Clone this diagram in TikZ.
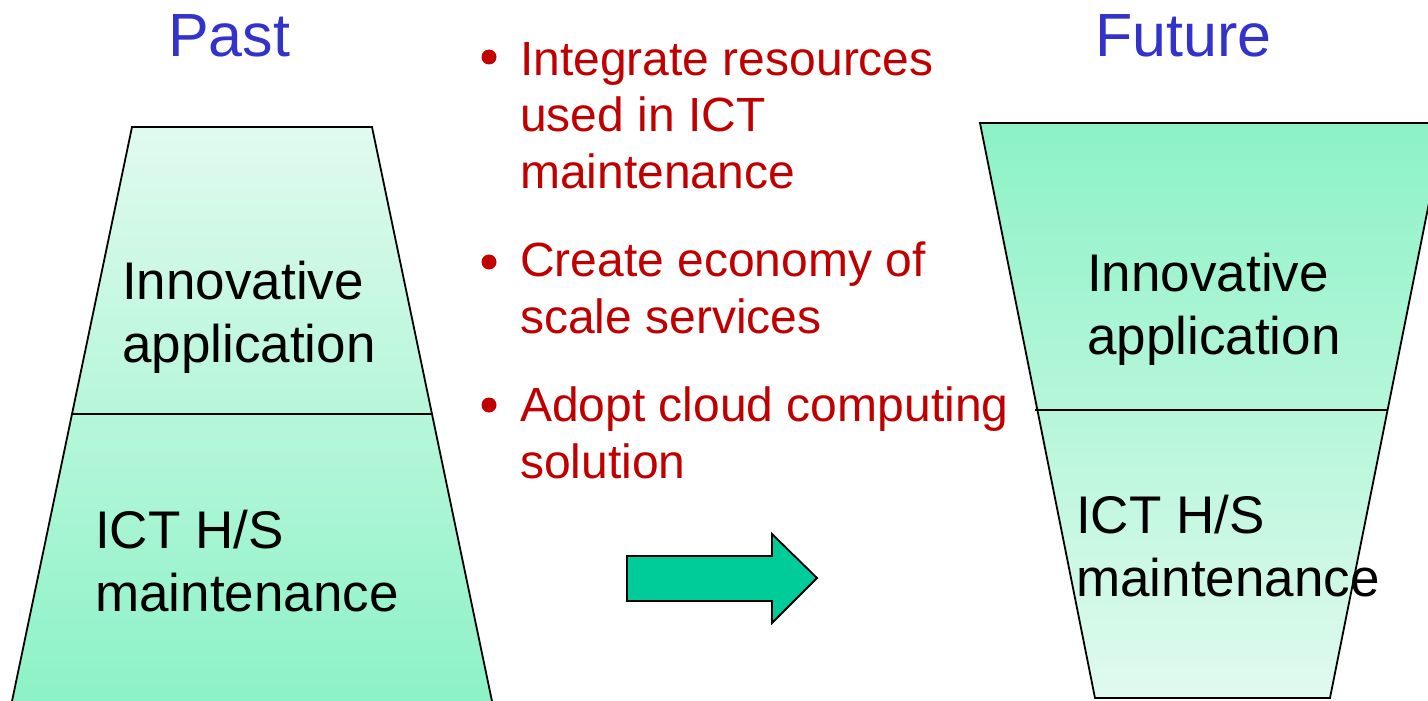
\documentclass[tikz,border=0pt]{standalone}
\usepackage{fontspec}
\setmainfont{Liberation Sans}
\definecolor{mintlight}{RGB}{224,250,239}
\definecolor{mintdark}{RGB}{140,242,198}
\definecolor{titleblue}{RGB}{51,51,204}
\definecolor{bulletred}{RGB}{192,0,0}
\definecolor{arrowgreen}{RGB}{0,204,153}
\tikzset{
  outline/.style={draw=black, line width=1.8pt, line join=miter},
  title/.style={anchor=base west, inner sep=0pt, text=titleblue, font=\fontsize{61}{73}\selectfont},
  redtext/.style={anchor=base west, inner sep=0pt, align=left, text=bulletred, font=\fontsize{48}{56.5}\selectfont},
  blacktext/.style={anchor=base west, inner sep=0pt, align=left, text=black, font=\fontsize{53}{62.5}\selectfont},
  bulletdot/.style={circle, fill=bulletred, inner sep=0pt, minimum size=15pt},
}
\begin{document}
\begin{tikzpicture}[x=1pt,y=-1pt]
\useasboundingbox (0,0) rectangle (1428,701);
\fill[white] (0,0) rectangle (1428,701);
\begin{scope}
\clip (0,0) rectangle (1428,701);
% Past trapezoid
\shade[outline, top color=mintlight, bottom color=mintdark]
  (132,127) -- (372,127) -- (492.8,705) -- (11.2,705) -- cycle;
\draw[outline] (72,414) -- (432,414);
% Future trapezoid
\shade[outline, top color=mintdark, bottom color=mintlight]
  (980,123) -- (1445,123) -- (1330,698) -- (1095,698) -- cycle;
\draw[outline] (1035,410) -- (1388,410);
\end{scope}
% arrow
\filldraw[fill=arrowgreen, draw=black, line width=1.8pt, line join=miter]
  (627,556) -- (772,556) -- (772,534) -- (817,578) -- (772,623) -- (772,601) -- (627,601) -- cycle;
% titles
\node[title] (past) at (168,57) {Past};
\node[title] (future) at (1095,57) {Future};
% bullets
\node[bulletdot] (b1) at (489,57) {};
\node[bulletdot] (b2) at (489,262) {};
\node[bulletdot] (b3) at (489,405) {};
\node[redtext] (t1) at (520,188) {Integrate resources\\used in ICT\\maintenance};
\node[redtext] (t2) at (520,333) {Create economy of\\scale services};
\node[redtext] (t3) at (520,478) {Adopt cloud computing\\solution};
% left labels
\node[blacktext] (lapp) at (122,362) {Innovative\\application};
\node[blacktext] (lict) at (95,611) {ICT H/S\\maintenance};
% right labels
\node[blacktext] (rapp) at (1087,354) {Innovative\\application};
\node[blacktext] (rict) at (1076,596) {ICT H/S\\maintenance};
\end{tikzpicture}
\end{document}
